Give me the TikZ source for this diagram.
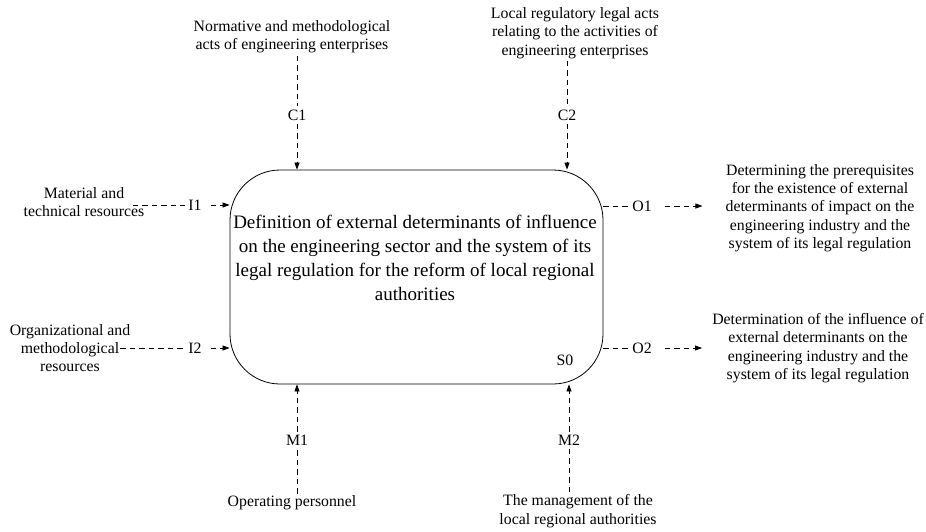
\documentclass[tikz,border=0pt]{standalone}
\usepackage{fontspec}
\setmainfont{Liberation Serif}
\usetikzlibrary{arrows.meta,positioning,calc}

\begin{document}
\begin{tikzpicture}[x=1pt, y=-1pt,
    txt/.style={align=center, font=\fontsize{15.8}{18.3}\selectfont, inner sep=2pt},
    lbl/.style={font=\fontsize{15.8}{18}\selectfont, inner sep=3pt},
    dline/.style={dash pattern=on 5.5pt off 4pt, line width=0.7pt},
    arr/.style={dline, -{Triangle[length=7pt,width=5pt]}}
  ]
    \useasboundingbox (0,0) rectangle (926,531);
    % function block
    \node[draw, line width=0.8pt, rounded corners=50pt, minimum width=373pt, minimum height=214pt] (box) at (416.5,277) {};
    \node[align=center, font=\fontsize{19}{24}\selectfont] (func) at (415,258) {Definition of external determinants of influence\\on the engineering sector and the system of its\\legal regulation for the reform of local regional\\authorities};
    \node[lbl] (s0) at (565,360) {S0};

    % controls
    \node[txt] (norm) at (292,37) {Normative and methodological\\acts of engineering enterprises};
    \node[lbl] (c1) at (297,115) {C1};
    \draw[dline] (norm.south -| c1) -- (c1);
    \draw[arr] (c1) -- (c1 |- box.north);
    \node[txt] (local) at (575,33) {Local regulatory legal acts\\relating to the activities of\\engineering enterprises};
    \node[lbl] (c2) at (567,115) {C2};
    \draw[dline] (local.south -| c2) -- (c2);
    \draw[arr] (c2) -- (c2 |- box.north);

    % inputs
    \node[txt] (mat) at (84,202) {Material and\\technical resources};
    \node[lbl] (i1) at (195,205) {I1};
    \draw[dline] ([xshift=-14pt]mat.east |- i1) -- (i1);
    \draw[arr] ([xshift=6pt]i1.east) -- (box.west |- i1);
    \node[txt] (org) at (70,348) {Organizational and\\methodological\\resources};
    \node[lbl] (i2) at (195,348) {I2};
    \draw[dline] ([xshift=-12pt]org.east |- i2) -- (i2);
    \draw[arr] ([xshift=6pt]i2.east) -- (box.west |- i2);

    % outputs
    \node[txt] (res1) at (820,208) {Determining the prerequisites\\for the existence of external\\determinants of impact on the\\engineering industry and the\\system of its legal regulation};
    \node[lbl] (o1) at (642,206) {O1};
    \draw[dline] (box.east |- o1) -- (o1);
    \draw[arr] ([xshift=10pt]o1.east) -- ([xshift=-21pt]res1.west |- o1);
    \node[txt] (res2) at (818,348) {Determination of the influence of\\external determinants on the\\engineering industry and the\\system of its legal regulation};
    \node[lbl] (o2) at (642,348) {O2};
    \draw[dline] (box.east |- o2) -- (o2);
    \draw[arr] ([xshift=10pt]o2.east) -- ([xshift=-8pt]res2.west |- o2);

    % mechanisms
    \node[txt] (pers) at (292,503) {Operating personnel};
    \node[lbl] (m1) at (297,440) {M1};
    \draw[dline] (pers.north -| m1) -- (m1);
    \draw[arr] (m1) -- (m1 |- box.south);
    \node[txt] (mgmt) at (578,511) {The management of the\\local regional authorities};
    \node[lbl] (m2) at (569,440) {M2};
    \draw[dline] (mgmt.north -| m2) -- (m2);
    \draw[arr] (m2) -- (m2 |- box.south);
  \end{tikzpicture}
\end{document}
